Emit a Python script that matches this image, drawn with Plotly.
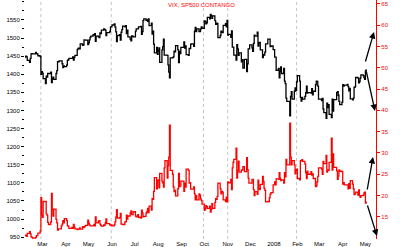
import pandas as pd
import plotly.graph_objects as go

# ---------------- data ----------------
start_day = "2007-02-05"
end_day = "2008-05-02"
holidays = ["2007-02-19", "2007-04-06", "2007-05-28", "2007-07-04", "2007-09-03",
            "2007-11-22", "2007-12-25", "2008-01-01", "2008-01-21", "2008-02-18",
            "2008-03-21"]

spx = [
    1446, 1449, 1450, 1448, 1438, 1433, 1444, 1456, 1457, 1456, 1460, 1457, 1456, 1451, 1449, 1400, 1407,
    1403, 1388, 1374, 1395, 1392, 1402, 1402, 1406, 1377, 1387, 1392, 1386, 1402, 1410, 1435, 1434, 1437, 1437, 1429, 1418, 1423, 1421,
    1425, 1438, 1440, 1444, 1444, 1448, 1439, 1447, 1452, 1468, 1471, 1472, 1470, 1484, 1480, 1481, 1495, 1494, 1494, 1482,
    1487, 1495, 1502, 1505, 1509, 1508, 1512, 1491, 1505, 1503, 1501, 1514, 1512, 1522, 1525, 1524, 1522, 1507, 1515, 1518, 1531, 1531,
    1536, 1539, 1530, 1517, 1490, 1507, 1509, 1494, 1516, 1523, 1533, 1531, 1534, 1512, 1522, 1503, 1497, 1492, 1506, 1505, 1503,
    1519, 1525, 1525, 1531, 1532, 1510, 1518, 1548, 1553, 1549, 1550, 1546, 1553, 1534, 1541, 1511, 1519, 1483, 1459, 1474, 1455,
    1465, 1473, 1433, 1467, 1476, 1497, 1453, 1453, 1452, 1426, 1406, 1390, 1445, 1446, 1448, 1464, 1462, 1479, 1467, 1432, 1463, 1457, 1474,
    1489, 1472, 1478, 1454, 1452, 1471, 1471, 1483, 1484, 1477, 1519, 1529, 1518, 1525, 1518, 1518, 1525, 1531, 1527,
    1547, 1546, 1539, 1542, 1557, 1553, 1565, 1562, 1554, 1561, 1548, 1538, 1541, 1540, 1501, 1507, 1519, 1516, 1515, 1535, 1540, 1531, 1549,
    1508, 1510, 1502, 1520, 1475, 1475, 1453, 1439, 1482, 1470, 1452, 1459, 1434, 1440, 1417, 1441, 1407, 1429, 1470, 1470, 1481,
    1473, 1463, 1485, 1508, 1505, 1516, 1478, 1487, 1488, 1467, 1446, 1454, 1453, 1461, 1484, 1497, 1497, 1476, 1478, 1468,
    1447, 1447, 1411, 1416, 1390, 1409, 1420, 1402, 1416, 1381, 1374, 1334, 1325, 1285, 1339, 1352, 1331, 1353, 1362, 1355, 1379,
    1396, 1381, 1336, 1326, 1336, 1331, 1339, 1349, 1367, 1348, 1349, 1348, 1360, 1343, 1353, 1371, 1381, 1380, 1367, 1331,
    1331, 1327, 1333, 1304, 1294, 1278, 1320, 1308, 1316, 1289, 1280, 1331, 1298, 1330, 1349, 1352, 1342, 1325, 1316, 1323,
    1371, 1367, 1370, 1370, 1372, 1366, 1354, 1361, 1332, 1329, 1334, 1364, 1365, 1391, 1389, 1376, 1380, 1389, 1398, 1396, 1391, 1386,
    1409, 1414,
]

vix = [
    10.7, 10.6, 10.7, 10.4, 11.1, 11.5, 11.0, 10.3, 10.2, 10.0, 10.2, 10.6, 10.6, 11.2, 11.7, 19.5, 15.4,
    14.9, 18.6, 18.6, 15.7, 15.4, 13.7, 13.2, 13.8, 20.5, 16.8, 15.2, 16.8, 14.4, 13.6, 11.9, 12.2, 12.2, 12.9, 13.3, 14.1, 13.6, 14.6,
    14.1, 12.9, 12.8, 12.3, 12.5, 12.3, 13.2, 12.6, 12.2, 12.0, 12.1, 12.1, 12.4, 12.1, 12.7, 12.5, 12.6, 12.8, 13.0, 14.2,
    13.5, 13.1, 12.9, 12.9, 12.9, 13.2, 12.9, 15.0, 13.6, 14.0, 14.1, 13.3, 13.0, 12.8, 13.1, 13.0, 13.6, 14.5, 13.4, 13.1, 13.0, 13.1,
    12.9, 13.2, 13.9, 15.0, 16.7, 14.7, 14.8, 15.8, 13.3, 13.3, 13.2, 13.8, 13.9, 15.4, 14.5, 15.2, 15.9, 16.4, 15.5, 15.5, 16.2,
    15.2, 15.0, 15.5, 14.9, 14.7, 16.6, 15.9, 15.0, 15.1, 15.9, 16.3, 17.0, 16.0, 17.5, 16.6, 19.3, 19.1, 21.0, 24.2, 21.6, 23.5,
    23.7, 21.8, 25.2, 23.4, 23.0, 22.0, 26.5, 28.2, 24.1, 27.0, 29.0, 36.5, 25.9, 25.0, 22.0, 20.9, 21.2, 19.9, 21.6, 25.2, 22.1, 22.2, 23.4,
    21.0, 22.9, 22.0, 26.2, 25.9, 22.9, 23.0, 21.5, 21.5, 22.0, 20.4, 19.0, 20.0, 19.0, 20.4, 20.1, 19.2, 18.8, 18.0,
    16.5, 16.9, 17.6, 17.4, 17.0, 17.5, 16.1, 16.7, 18.1, 17.0, 18.4, 19.3, 19.1, 19.8, 22.9, 21.6, 20.4, 21.0, 20.8, 19.0, 18.6, 19.6, 18.5,
    23.2, 23.0, 23.8, 21.4, 26.5, 27.8, 28.5, 31.1, 24.1, 25.9, 28.1, 25.5, 26.0, 26.0, 26.8, 25.6, 28.9, 26.1, 24.1, 22.9, 22.9,
    23.8, 23.8, 21.4, 20.0, 20.9, 20.3, 23.6, 21.6, 21.4, 22.6, 24.5, 23.3, 21.7, 21.2, 18.5, 18.6, 19.5, 20.3, 20.7, 22.5,
    23.2, 22.5, 23.9, 23.8, 25.4, 24.1, 23.5, 23.7, 22.9, 25.4, 24.4, 28.5, 27.2, 37.0, 29.0, 27.2, 28.2, 27.2, 25.1, 26.0, 26.2,
    24.0, 23.7, 28.2, 28.2, 28.4, 28.0, 27.4, 25.3, 24.0, 25.7, 25.0, 25.6, 24.8, 25.1, 24.0, 22.1, 22.3, 23.2, 24.5, 26.5,
    26.5, 26.2, 25.0, 28.0, 27.5, 29.4, 25.5, 26.0, 25.9, 27.8, 33.5, 26.0, 29.8, 26.6, 25.8, 23.8, 24.6, 26.0, 25.7, 25.6,
    22.7, 23.0, 22.5, 22.5, 22.5, 21.6, 22.8, 21.7, 23.5, 22.7, 21.6, 20.2, 20.4, 20.8, 20.1, 21.3, 20.0, 19.6, 20.0, 20.1, 20.6, 20.8,
    18.2, 18.6,
]

month_ticks = ["2007-03-01", "2007-04-01", "2007-05-01", "2007-06-01", "2007-07-01",
               "2007-08-01", "2007-09-01", "2007-10-01", "2007-11-01", "2007-12-01",
               "2008-01-01", "2008-02-01", "2008-03-01", "2008-04-01", "2008-05-01"]
month_labels = ["Mar", "Apr", "May", "Jun", "Jul", "Aug", "Sep", "Oct", "Nov", "Dec",
                "2008", "Feb", "Mar", "Apr", "May"]
marker_dates = ["2007-02-27", "2007-05-31", "2007-09-30", "2007-11-01", "2008-01-31"]
spx_labels = [950, 1000, 1050, 1100, 1150, 1200, 1250, 1300, 1350, 1400, 1450, 1500, 1550]
vix_labels = [15, 20, 25, 30, 35, 40, 45, 50, 55, 60, 65]
title_text = "VIX, SP500 CONTANGO"

# ---------------- build ----------------
days = pd.bdate_range(start_day, end_day)
days = days[~days.isin(pd.to_datetime(holidays))]
n = min(len(days), len(spx), len(vix))
days = days[:n]

fig = go.Figure()
fig.add_trace(go.Scatter(x=days, y=spx[:n], mode="lines", line=dict(color="black", width=1.3, shape="hv"),
                         yaxis="y", showlegend=False, hoverinfo="skip"))
fig.add_trace(go.Scatter(x=days, y=vix[:n], mode="lines", line=dict(color="#ff0000", width=1.3, shape="hv"),
                         yaxis="y2", showlegend=False, hoverinfo="skip"))

for d in marker_dates:
    fig.add_shape(type="line", xref="x", yref="paper", x0=d, x1=d, y0=0, y1=1,
                  line=dict(color="#c4c4c4", width=1, dash="dot"), layer="below")

# plot-area helpers (pixels -> paper)
L, R, T, B = 25, 24, 0, 8
W, H = 400, 247
pw, ph = W - L - R, H - T - B


def px(xp):
    return (xp - L) / pw


def py(yp):
    return (H - B - yp) / ph


arrows = [((374, 32), (-9, 31)), ((375, 111), (-9, -41)),
          ((373, 157), (-6, 34)), ((377, 236), (-10, -32))]
for (hx, hy), (ax, ay) in arrows:
    fig.add_annotation(x=px(hx), y=py(hy), xref="paper", yref="paper", ax=ax, ay=ay,
                       showarrow=True, arrowhead=2, arrowsize=1, arrowwidth=1.3,
                       arrowcolor="black", text="")

fig.add_annotation(x=px(201), y=py(5), xref="paper", yref="paper", text=title_text,
                   showarrow=False, font=dict(color="#ff0000", size=6), xanchor="center",
                   yanchor="middle")

fig.update_layout(
    width=W, height=H,
    margin=dict(l=L, r=R, t=T, b=B),
    paper_bgcolor="white", plot_bgcolor="white",
    font=dict(family="Liberation Sans, Arial, sans-serif", size=6, color="black"),
    xaxis=dict(type="date", range=["2007-02-06", "2008-05-15"], tickvals=month_ticks,
               ticktext=month_labels, showgrid=False, zeroline=False, showline=False,
               ticks="", tickfont=dict(size=6, color="black")),
    yaxis=dict(range=[945, 1605], tickvals=spx_labels, ticktext=[str(v) for v in spx_labels],
               showgrid=False, zeroline=False, showline=False, ticks="outside", ticklen=3,
               tickcolor="black", tickfont=dict(size=6, color="black"),
               minor=dict(ticks="outside", ticklen=2, dtick=25, tickcolor="black")),
    yaxis2=dict(range=[9.8, 65.9], overlaying="y", side="right", tickvals=vix_labels,
                ticktext=[str(v) for v in vix_labels], showgrid=False, zeroline=False,
                showline=True, linecolor="#ff0000", linewidth=1.3, ticks="outside", ticklen=3,
                tickcolor="#ff0000", tickfont=dict(size=6, color="#ff0000")),
)

fig.write_html("out.html")
